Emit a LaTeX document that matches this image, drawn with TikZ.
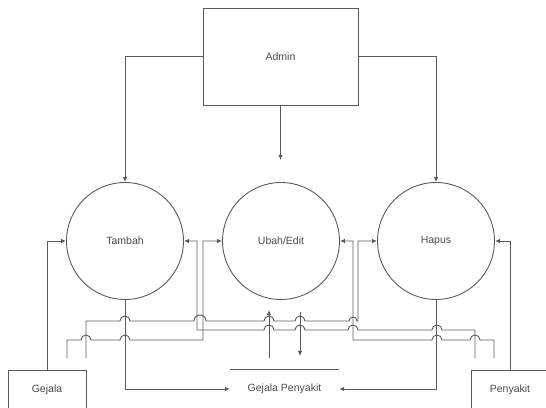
\documentclass[tikz,border=0pt]{standalone}
\usepackage{fontspec}
\setmainfont{Liberation Sans}
\usetikzlibrary{arrows.meta}
\definecolor{ln}{HTML}{5A5A5A}
\definecolor{tx}{HTML}{4A4A4A}
\tikzset{
  every node/.style={font=\fontsize{10.5}{12}\selectfont, text=tx},
  proc/.style={circle, draw=ln, line width=0.9pt, minimum size=117pt, inner sep=0pt},
  ent/.style={rectangle, draw=ln, line width=0.9pt, inner sep=0pt},
  wire/.style={draw=ln, line width=0.9pt},
  arr/.style={wire, -{Latex[length=5pt,width=4.5pt]}},
}
\begin{document}
\begin{tikzpicture}[x=1pt,y=1pt]
\useasboundingbox (0,0) rectangle (546,407);
% nodes
\node[ent, minimum width=155pt, minimum height=97pt] (admin) at (280.5,350.5) {Admin};
\node[proc] (tambah) at (125,166) {Tambah};
\node[proc] (ubah) at (281,166) {Ubah/Edit};
\node[proc] (hapus) at (436,166) {Hapus};
\node[ent, minimum width=78pt, minimum height=39pt] (gejala) at (47,17.5) {Gejala};
\node[ent, minimum width=78pt, minimum height=39pt] (penyakit) at (510,17.5) {Penyakit};
\node[minimum width=109pt, minimum height=38pt, inner sep=0pt] (store) at (284.5,18) {Gejala Penyakit};
\draw[wire] (store.north west) -- (store.north east);
% free ends
\coordinate (ga) at (67,49);
\coordinate (gb) at (86,49);
\coordinate (pa) at (475,49);
\coordinate (pb) at (494,49);
\coordinate (upS) at (269,49);
\coordinate (upE) at (269,97);
\coordinate (dnS) at (300,95);
\coordinate (dnE) at (300,51);
\coordinate (admE) at (280.5,247);
% admin connectors
\draw[arr] (admin.west) -| (tambah.north);
\draw[arr] (admin.east) -| (hapus.north);
\draw[arr] (admin.south) -- (admE);
% to store
\draw[arr] (tambah.south) |- (store.west);
\draw[arr] (hapus.south) |- (store.east);
% simple entity flows
\draw[arr] (gejala.north) |- (tambah.west);
\draw[arr] (penyakit.north) |- (hapus.east);
% Gejala -> Ubah/Edit (left)
\draw[arr] (ga) -- (67,67) -- (81,67) arc[start angle=180,end angle=0,radius=5pt]
  -- (120,67) arc[start angle=180,end angle=0,radius=5pt]
  -- (203,67) |- (ubah.west);
% Gejala -> Hapus (left)
\draw[arr] (gb) -- (86,86) -- (120,86) arc[start angle=180,end angle=0,radius=5pt]
  -- (194,86) arc[start angle=180,end angle=0,radius=6pt]
  -- (264,86) arc[start angle=180,end angle=0,radius=5pt]
  -- (295,86) arc[start angle=180,end angle=0,radius=5pt]
  -- (349,86) arc[start angle=180,end angle=0,radius=4pt]
  -- (358,86) |- (hapus.west);
% Penyakit -> Tambah (right)
\draw[arr] (pa) -- (475,77) -- (442,77) arc[start angle=0,end angle=180,radius=5pt]
  -- (358,77) arc[start angle=0,end angle=180,radius=5pt]
  -- (305,77) arc[start angle=0,end angle=180,radius=5pt]
  -- (274,77) arc[start angle=0,end angle=180,radius=5pt]
  -- (197,77) |- (tambah.east);
% Penyakit -> Ubah/Edit (right)
\draw[arr] (pb) -- (494,67) -- (480,67) arc[start angle=0,end angle=180,radius=5pt]
  -- (442,67) arc[start angle=0,end angle=180,radius=5pt]
  -- (353,67) |- (ubah.east);
% store <-> Ubah/Edit
\draw[arr] (upS) -- (upE);
\draw[arr] (dnS) -- (dnE);
\end{tikzpicture}
\end{document}
